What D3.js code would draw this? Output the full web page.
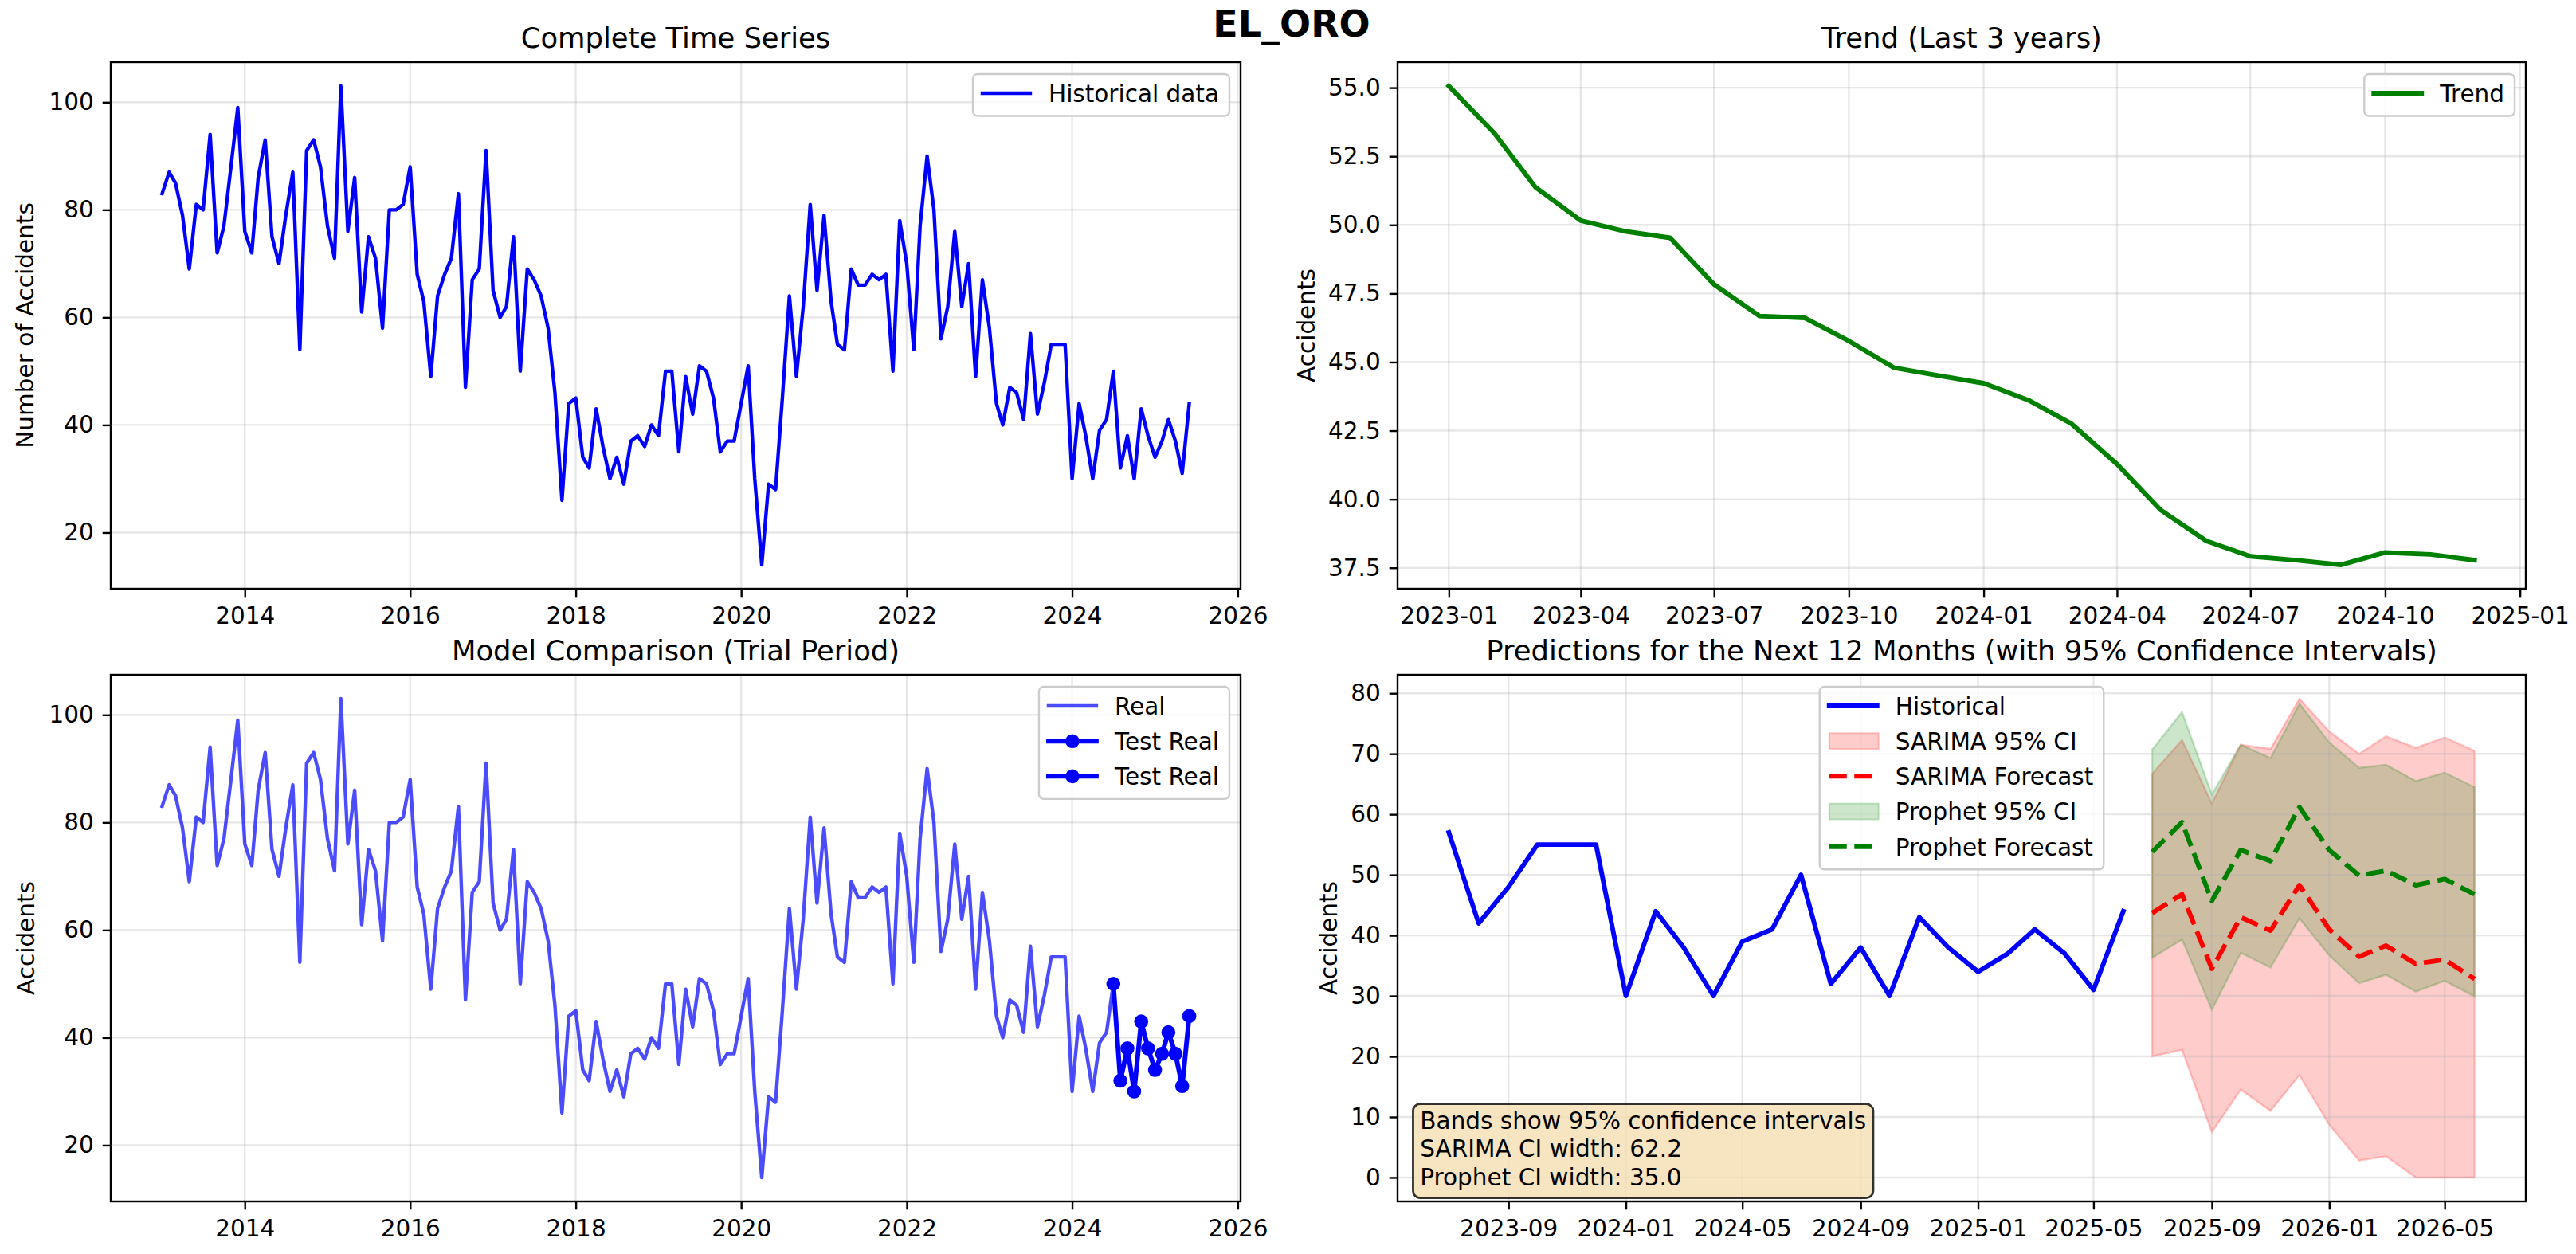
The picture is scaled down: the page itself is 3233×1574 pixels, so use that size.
<!DOCTYPE html>
<html>
<head>
<meta charset="utf-8">
<script src="https://cdn.jsdelivr.net/npm/d3@7"></script>
<style>
  body { margin: 0; background: #fff; }
  text { font-family: "DejaVu Sans", sans-serif; }
</style>
</head>
<body>
<svg id="chart"></svg>
<script>
// monthly accident counts, Jan 2013 .. Jun 2025
let seriesStart = new Date(2013, 0, 1);
let accidents = [
  83, 87, 85, 79, 69, 81, 80, 94, 72, 77, 88, 99,
  76, 72, 86, 93, 75, 70, 79, 87, 54, 91, 93, 88,
  77, 71, 103, 76, 86, 61, 75, 71, 58, 80, 80, 81,
  88, 68, 63, 49, 64, 68, 71, 83, 47, 67, 69, 91,
  65, 60, 62, 75, 50, 69, 67, 64, 58, 46, 26, 44,
  45, 34, 32, 43, 36, 30, 34, 29, 37, 38, 36, 40,
  38, 50, 50, 35, 49, 42, 51, 50, 45, 35, 37, 37,
  44, 51, 30, 14, 29, 28, 45, 64, 49, 62, 81, 65,
  79, 63, 55, 54, 69, 66, 66, 68, 67, 68, 50, 78,
  70, 54, 77, 90, 80, 56, 62, 76, 62, 70, 49, 67,
  58, 44, 40, 47, 46, 41, 57, 42, 48, 55, 55, 55,
  30, 44, 38, 30, 39, 41, 50, 32, 38, 30, 43, 38,
  34, 37, 41, 37, 31, 44
];
let testStartIndex = 138;     // 2024-07
let recentStartIndex = 126;   // 2023-07

// trend component, Jan 2023 .. Dec 2024
let trendStart = new Date(2023, 0, 1);
let trendValues = [55.06, 53.35, 51.38, 50.16, 49.77, 49.53, 47.83, 46.68, 46.61, 45.77, 44.79, 44.51,
                   44.23, 43.60, 42.75, 41.28, 39.60, 38.48, 37.92, 37.78, 37.61, 38.06, 37.99, 37.78];

// forecasts, Jul 2025 .. Jun 2026
let forecastStart = new Date(2025, 6, 1);
let sarimaForecast = [43.7, 46.8, 34.5, 43.0, 40.8, 48.3, 41.0, 36.5, 38.3, 35.3, 36.0, 32.8];
let sarimaLower    = [20.0, 21.1, 7.5, 14.5, 11.0, 16.9, 8.7, 2.8, 3.5, 0, 0, 0];
let sarimaUpper    = [66.7, 72.3, 61.8, 71.5, 70.8, 79.1, 73.7, 70.0, 72.9, 71.0, 72.7, 70.5];
let prophetForecast = [53.8, 58.7, 45.7, 54.1, 52.3, 61.2, 54.1, 49.9, 50.7, 48.3, 49.3, 46.8];
let prophetLower    = [36.3, 39.3, 27.7, 37.1, 34.7, 42.8, 36.7, 32.1, 33.5, 30.7, 32.5, 29.9];
let prophetUpper    = [70.7, 76.9, 63.3, 71.5, 69.3, 78.3, 71.9, 67.7, 68.2, 65.5, 66.9, 64.5];

let countTicks = [20, 40, 60, 80, 100];
let trendTicks = [37.5, 40.0, 42.5, 45.0, 47.5, 50.0, 52.5, 55.0];
let forecastTicks = [0, 10, 20, 30, 40, 50, 60, 70, 80];
let infoLines = ["Bands show 95% confidence intervals", "SARIMA CI width: 62.2", "Prophet CI width: 35.0"];

const FONT = "DejaVu Sans";
const FS = 29.5, TITLE_FS = 35.4, SUP_FS = 46;
const TICK = 10.3;

let svg = d3.select("#chart").attr("width", 3233).attr("height", 1574).style("display", "block");
svg.append("rect").attr("width", 3233).attr("height", 1574).attr("fill", "#fff");

let layout = {
  tl: {left: 139, top: 78, right: 1557, bottom: 739, ylabX: 42, title: "Complete Time Series", ylabel: "Number of Accidents"},
  tr: {left: 1754, top: 78, right: 3170, bottom: 739, ylabX: 1650, title: "Trend (Last 3 years)", ylabel: "Accidents"},
  bl: {left: 139, top: 847, right: 1557, bottom: 1508, ylabX: 43, title: "Model Comparison (Trial Period)", ylabel: "Accidents"},
  br: {left: 1754, top: 847, right: 3170, bottom: 1508, ylabX: 1678, title: "Predictions for the Next 12 Months (with 95% Confidence Intervals)", ylabel: "Accidents"}
};

function monthRows(start, values) {
  return values.map((v, i) => ({date: d3.timeMonth.offset(start, i), value: v}));
}
function padDomain(lo, hi) {
  let m = (hi - lo) * 0.05;
  return [lo - m, hi + m];
}
function timeDomain(rows) {
  let ext = d3.extent(rows, d => +d.date);
  return padDomain(ext[0], ext[1]).map(t => new Date(t));
}

function makeAxes(box) {
  let g = svg.append("g").attr("transform", `translate(${box.left},${box.top})`);
  return {g: g, w: box.right - box.left, h: box.bottom - box.top, box: box};
}

function drawGrid(ax, x, y, xTicks, yTicks) {
  let grid = ax.g.append("g").attr("stroke", "#b0b0b0").attr("stroke-opacity", 0.3).attr("stroke-width", 2.4);
  grid.selectAll("line.gx").data(xTicks).join("line").attr("class", "gx")
    .attr("x1", d => x(d)).attr("x2", d => x(d)).attr("y1", 0).attr("y2", ax.h);
  grid.selectAll("line.gy").data(yTicks).join("line").attr("class", "gy")
    .attr("x1", 0).attr("x2", ax.w).attr("y1", d => y(d)).attr("y2", d => y(d));
}

function styleAxis(a) {
  a.select(".domain").remove();
  a.attr("font-size", FS).attr("font-family", FONT);
  a.selectAll(".tick line").attr("stroke", "#000").attr("stroke-width", 2.4);
  a.selectAll(".tick text").attr("fill", "#000");
}

function drawAxes(ax, x, y, xTicks, xFmt, yTicks, yFmt) {
  ax.g.append("g")
    .attr("transform", `translate(0,${ax.h})`)
    .call(d3.axisBottom(x).tickValues(xTicks).tickFormat(xFmt).tickSize(TICK).tickPadding(13).tickSizeOuter(0))
    .call(styleAxis);
  ax.g.append("g")
    .call(d3.axisLeft(y).tickValues(yTicks).tickFormat(yFmt).tickSize(TICK).tickPadding(11).tickSizeOuter(0))
    .call(styleAxis);
  ax.g.append("rect")
    .attr("width", ax.w).attr("height", ax.h)
    .attr("fill", "none").attr("stroke", "#000").attr("stroke-width", 2.4);
  ax.g.append("text")
    .attr("x", ax.w / 2).attr("y", -18)
    .attr("text-anchor", "middle").attr("font-size", TITLE_FS)
    .text(ax.box.title);
  svg.append("text")
    .attr("transform", `translate(${ax.box.ylabX},${(ax.box.top + ax.box.bottom) / 2}) rotate(-90)`)
    .attr("text-anchor", "middle").attr("font-size", FS)
    .text(ax.box.ylabel);
}

function drawLegend(ax, entries, align) {
  let rowTop = 24, pitch = 44.2, rowBottom = 28.5;
  let lg = ax.g.append("g");
  let frame = lg.append("rect");
  let items = lg.selectAll("g.item").data(entries).join("g").attr("class", "item")
    .attr("transform", (d, i) => `translate(0,${rowTop + i * pitch})`);
  items.append("text").attr("x", 95).attr("y", FS * 0.365).attr("font-size", FS).text(d => d.label);
  let textW = d3.max(items.nodes(), n => n.querySelector("text").getComputedTextLength());
  let boxW = 95 + textW + 13;
  let boxH = rowTop + (entries.length - 1) * pitch + rowBottom;
  items.each(function(d) {
    let it = d3.select(this);
    if (d.kind === "patch") {
      it.append("rect").attr("x", 12).attr("y", -10).attr("width", 62).attr("height", 20)
        .attr("fill", d.color).attr("fill-opacity", 0.2)
        .attr("stroke", d.color).attr("stroke-opacity", 0.2).attr("stroke-width", 2);
    } else {
      it.append("line").attr("x1", 12).attr("x2", d.dash ? 74 : 72)
        .attr("stroke", d.color).attr("stroke-opacity", d.opacity || 1)
        .attr("stroke-width", d.width)
        .attr("stroke-linecap", d.dash ? "butt" : "square")
        .attr("stroke-dasharray", d.dash || null);
      if (d.marker) it.append("circle").attr("cx", 42).attr("r", 8.8).attr("fill", d.color);
    }
  });
  let left = align === "center" ? (ax.w - boxW) / 2 : ax.w - 14 - boxW;
  lg.attr("transform", `translate(${left},15)`);
  frame.attr("width", boxW).attr("height", boxH).attr("rx", 6)
    .attr("fill", "#fff").attr("fill-opacity", 0.8)
    .attr("stroke", "#cccccc").attr("stroke-width", 2.4);
}

// suptitle
svg.append("text")
  .attr("x", 1621).attr("y", 46)
  .attr("text-anchor", "middle").attr("font-size", SUP_FS).attr("font-weight", "bold")
  .text("EL_ORO");

let histRows = monthRows(seriesStart, accidents);
let yearFmt = d3.timeFormat("%Y");
let monthFmt = d3.timeFormat("%Y-%m");

// ---- top left: complete series
let tl = makeAxes(layout.tl);
let xTL = d3.scaleTime().domain(timeDomain(histRows)).range([0, tl.w]);
let yTL = d3.scaleLinear().domain(padDomain(d3.min(accidents), d3.max(accidents))).range([tl.h, 0]);
let yearTicks = xTL.ticks(d3.timeYear.every(2));
drawGrid(tl, xTL, yTL, yearTicks, countTicks);
let lineTL = d3.line().x(d => xTL(d.date)).y(d => yTL(d.value));
tl.g.append("path").datum(histRows).attr("d", lineTL)
  .attr("fill", "none").attr("stroke", "blue").attr("stroke-width", 4.4)
  .attr("stroke-linejoin", "round").attr("stroke-linecap", "square");
drawAxes(tl, xTL, yTL, yearTicks, yearFmt, countTicks, d3.format("d"));
drawLegend(tl, [{label: "Historical data", kind: "line", color: "blue", width: 4.4}], "right");

// ---- top right: trend
let trendRows = monthRows(trendStart, trendValues);
let tr = makeAxes(layout.tr);
let xTR = d3.scaleTime().domain(timeDomain(trendRows)).range([0, tr.w]);
let yTR = d3.scaleLinear().domain(padDomain(d3.min(trendValues), d3.max(trendValues))).range([tr.h, 0]);
let quarterTicks = xTR.ticks(d3.timeMonth.every(3));
drawGrid(tr, xTR, yTR, quarterTicks, trendTicks);
tr.g.append("path").datum(trendRows)
  .attr("d", d3.line().x(d => xTR(d.date)).y(d => yTR(d.value)))
  .attr("fill", "none").attr("stroke", "green").attr("stroke-width", 5.9)
  .attr("stroke-linejoin", "round").attr("stroke-linecap", "square");
drawAxes(tr, xTR, yTR, quarterTicks, monthFmt, trendTicks, d3.format(".1f"));
drawLegend(tr, [{label: "Trend", kind: "line", color: "green", width: 5.9}], "right");

// ---- bottom left: model comparison
let bl = makeAxes(layout.bl);
let xBL = d3.scaleTime().domain(timeDomain(histRows)).range([0, bl.w]);
let yBL = d3.scaleLinear().domain(padDomain(d3.min(accidents), d3.max(accidents))).range([bl.h, 0]);
drawGrid(bl, xBL, yBL, yearTicks, countTicks);
let lineBL = d3.line().x(d => xBL(d.date)).y(d => yBL(d.value));
bl.g.append("path").datum(histRows).attr("d", lineBL)
  .attr("fill", "none").attr("stroke", "blue").attr("stroke-opacity", 0.7).attr("stroke-width", 4.4)
  .attr("stroke-linejoin", "round").attr("stroke-linecap", "square");
let testRows = histRows.slice(testStartIndex);
bl.g.append("path").datum(testRows).attr("d", lineBL)
  .attr("fill", "none").attr("stroke", "blue").attr("stroke-width", 5.9)
  .attr("stroke-linejoin", "round").attr("stroke-linecap", "square");
bl.g.append("g").selectAll("circle").data(testRows).join("circle")
  .attr("cx", d => xBL(d.date)).attr("cy", d => yBL(d.value)).attr("r", 8.8)
  .attr("fill", "blue");
drawAxes(bl, xBL, yBL, yearTicks, yearFmt, countTicks, d3.format("d"));
drawLegend(bl, [
  {label: "Real", kind: "line", color: "blue", width: 4.4, opacity: 0.7},
  {label: "Test Real", kind: "line", color: "blue", width: 5.9, marker: true},
  {label: "Test Real", kind: "line", color: "blue", width: 5.9, marker: true}
], "right");

// ---- bottom right: forecasts
let recentRows = histRows.slice(recentStartIndex);
let fcRows = sarimaForecast.map((v, i) => ({
  date: d3.timeMonth.offset(forecastStart, i),
  sarima: v, sLo: sarimaLower[i], sHi: sarimaUpper[i],
  prophet: prophetForecast[i], pLo: prophetLower[i], pHi: prophetUpper[i]
}));
let br = makeAxes(layout.br);
let xBR = d3.scaleTime()
  .domain(padDomain(+recentRows[0].date, +fcRows[fcRows.length - 1].date).map(t => new Date(t)))
  .range([0, br.w]);
let allBR = accidents.slice(recentStartIndex).concat(sarimaLower, sarimaUpper, prophetLower, prophetUpper);
let yBR = d3.scaleLinear().domain(padDomain(d3.min(allBR), d3.max(allBR))).range([br.h, 0]);
let fourMonthTicks = xBR.ticks(d3.timeMonth.every(4));

br.g.append("path").datum(fcRows)
  .attr("d", d3.area().x(d => xBR(d.date)).y0(d => yBR(d.sLo)).y1(d => yBR(d.sHi)))
  .attr("fill", "red").attr("fill-opacity", 0.2)
  .attr("stroke", "red").attr("stroke-opacity", 0.2).attr("stroke-width", 2.5);
br.g.append("path").datum(fcRows)
  .attr("d", d3.area().x(d => xBR(d.date)).y0(d => yBR(d.pLo)).y1(d => yBR(d.pHi)))
  .attr("fill", "green").attr("fill-opacity", 0.2)
  .attr("stroke", "green").attr("stroke-opacity", 0.2).attr("stroke-width", 2.5);
drawGrid(br, xBR, yBR, fourMonthTicks, forecastTicks);

br.g.append("path").datum(recentRows)
  .attr("d", d3.line().x(d => xBR(d.date)).y(d => yBR(d.value)))
  .attr("fill", "none").attr("stroke", "blue").attr("stroke-width", 5.9)
  .attr("stroke-linejoin", "round").attr("stroke-linecap", "square");
br.g.append("path").datum(fcRows)
  .attr("d", d3.line().x(d => xBR(d.date)).y(d => yBR(d.sarima)))
  .attr("fill", "none").attr("stroke", "red").attr("stroke-width", 5.9)
  .attr("stroke-dasharray", "22,9.5").attr("stroke-linejoin", "round");
br.g.append("path").datum(fcRows)
  .attr("d", d3.line().x(d => xBR(d.date)).y(d => yBR(d.prophet)))
  .attr("fill", "none").attr("stroke", "green").attr("stroke-width", 5.9)
  .attr("stroke-dasharray", "22,9.5").attr("stroke-linejoin", "round");
drawAxes(br, xBR, yBR, fourMonthTicks, monthFmt, forecastTicks, d3.format("d"));
drawLegend(br, [
  {label: "Historical", kind: "line", color: "blue", width: 5.9},
  {label: "SARIMA 95% CI", kind: "patch", color: "red"},
  {label: "SARIMA Forecast", kind: "line", color: "red", width: 5.9, dash: "22,9.5"},
  {label: "Prophet 95% CI", kind: "patch", color: "green"},
  {label: "Prophet Forecast", kind: "line", color: "green", width: 5.9, dash: "22,9.5"}
], "center");

// info box, lower left of forecast panel
let info = br.g.append("g");
let lineH = 1.2 * FS;
let lastBase = br.h - 0.02 * br.h - 0.24 * FS;
let firstBase = lastBase - (infoLines.length - 1) * lineH;
let textX = 0.02 * br.w;
let infoBox = info.append("rect");
let infoText = info.selectAll("text").data(infoLines).join("text")
  .attr("x", textX).attr("y", (d, i) => firstBase + i * lineH)
  .attr("font-size", FS).text(d => d);
let infoW = d3.max(infoText.nodes(), n => n.getComputedTextLength());
let pad = 0.3 * FS;
let boxTop = firstBase - 0.76 * FS - pad;
infoBox.attr("x", textX - pad).attr("y", boxTop)
  .attr("width", infoW + 2 * pad).attr("height", lastBase + 0.24 * FS + pad - boxTop)
  .attr("rx", pad)
  .attr("fill", "wheat").attr("fill-opacity", 0.8)
  .attr("stroke", "#000").attr("stroke-opacity", 0.8).attr("stroke-width", 2.8);
</script>
</body>
</html>
